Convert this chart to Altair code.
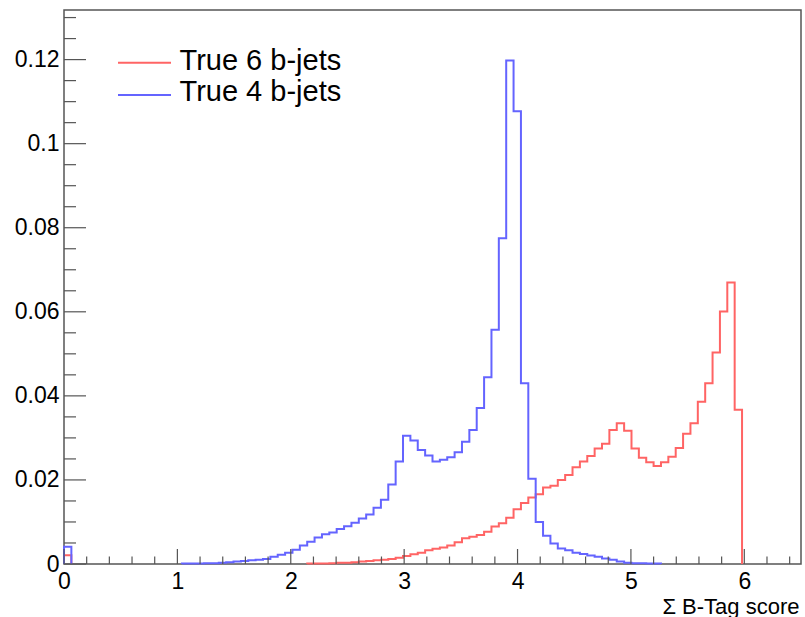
import altair as alt
import pandas as pd

# ---- data ----
BIN_W = 0.065          # 100 bins on [0, 6.5]
N_BINS = 100

series_names = ["True 6 b-jets", "True 4 b-jets"]
series_colors = ["#ff6464", "#6464ff"]

# True 6 b-jets: bin index -> value
red_bins = [0] + list(range(33, 92))
red_vals = [0.0021,
            0.0001, 0.0001, 0.0001, 0.0002, 0.0003, 0.0003, 0.0004, 0.0006, 0.0007, 0.0009,
            0.0010, 0.0012, 0.0015, 0.0019, 0.0023, 0.0027, 0.0033, 0.0036, 0.0039, 0.0044,
            0.0052, 0.0061, 0.0065, 0.0069, 0.0077, 0.0089, 0.0097, 0.0110, 0.0130, 0.0145,
            0.0158, 0.0166, 0.0182, 0.0186, 0.0200, 0.0212, 0.0230, 0.0244, 0.0257, 0.0275,
            0.0286, 0.0319, 0.0335, 0.0317, 0.0275, 0.0253, 0.0242, 0.0233, 0.0242, 0.0255,
            0.0276, 0.0310, 0.0335, 0.0386, 0.0430, 0.0503, 0.0601, 0.0670, 0.0367]

# True 4 b-jets
blue_bins = [0] + list(range(16, 81))
blue_vals = [0.0041,
             0.0001, 0.0001, 0.0001, 0.0002, 0.0002, 0.0003, 0.0004, 0.0006, 0.0007, 0.0009,
             0.0010, 0.0012, 0.0017, 0.0022, 0.0027, 0.0034, 0.0044, 0.0053, 0.0063, 0.0071,
             0.0075, 0.0083, 0.0090, 0.0098, 0.0108, 0.0118, 0.0134, 0.0153, 0.0189, 0.0244,
             0.0305, 0.0294, 0.0271, 0.0258, 0.0244, 0.0248, 0.0254, 0.0266, 0.0291, 0.0319,
             0.0371, 0.0444, 0.0557, 0.0775, 0.1198, 0.1077, 0.0430, 0.0203, 0.0100, 0.0067,
             0.0049, 0.0037, 0.0033, 0.0027, 0.0024, 0.0020, 0.0017, 0.0013, 0.0010, 0.0006,
             0.0003, 0.0002, 0.0002, 0.0001, 0.0001]

x_major = [0, 1, 2, 3, 4, 5, 6]
x_minor = [round(0.2 * k, 2) for k in range(1, 33) if k % 5 != 0]
y_major = [0, 0.02, 0.04, 0.06, 0.08, 0.1, 0.12]
y_minor = [round(0.005 * k, 3) for k in range(1, 27) if k % 4 != 0]

X_MAX = 6.5
Y_MAX = 0.1318

# ---- build step outlines ----
def step_rows(bins, vals, name):
    full = [0.0] * N_BINS
    for b, v in zip(bins, vals):
        full[b] = v
    rows = []
    seg = 0
    i = 0
    while i < N_BINS:
        if full[i] > 0:
            j = i
            while j < N_BINS and full[j] > 0:
                j += 1
            o = 0
            key = f"{name}-{seg}"
            rows.append(dict(x=i * BIN_W, y=0.0, series=name, seg=key, o=o)); o += 1
            for k in range(i, j):
                rows.append(dict(x=k * BIN_W, y=full[k], series=name, seg=key, o=o)); o += 1
                rows.append(dict(x=(k + 1) * BIN_W, y=full[k], series=name, seg=key, o=o)); o += 1
            rows.append(dict(x=j * BIN_W, y=0.0, series=name, seg=key, o=o))
            seg += 1
            i = j
        else:
            i += 1
    return rows

df = pd.DataFrame(step_rows(red_bins, red_vals, series_names[0]) +
                  step_rows(blue_bins, blue_vals, series_names[1]))

W, H = 737, 554
FONT = "Liberation Sans"
AX = "#555555"

xscale = alt.Scale(domain=[0, X_MAX], nice=False, zero=False)
yscale = alt.Scale(domain=[0, Y_MAX], nice=False)

hist = alt.Chart(df).mark_line(strokeWidth=2, interpolate="linear").encode(
    x=alt.X("x:Q", scale=xscale,
            axis=alt.Axis(values=x_major, format="d", ticks=False, tickSize=0, domain=False,
                          grid=False, labelFont=FONT, labelFontSize=23, labelColor="black",
                          labelBaseline="alphabetic", labelPadding=24, labelFlush=False,
                          labelOverlap=False,
                          title="Σ B-Tag score", titleFont=FONT, titleFontSize=22,
                          titleFontWeight="normal", titleColor="black",
                          titleAlign="right", titleX=W - 2, titleY=49,
                          titleBaseline="alphabetic")),
    y=alt.Y("y:Q", scale=yscale,
            axis=alt.Axis(values=y_major, format="~g", ticks=False, tickSize=0, domain=False,
                          grid=False, labelFont=FONT, labelFontSize=23, labelColor="black",
                          labelPadding=5, labelFlush=False, labelOverlap=False, title=None)),
    color=alt.Color("series:N",
                    scale=alt.Scale(domain=series_names, range=series_colors),
                    legend=None),
    detail="seg:N",
    order="o:Q",
)

def tick_df(vals):
    return pd.DataFrame({"v": vals})

ymaj = alt.Chart(tick_df(y_major)).mark_rule(color=AX, strokeWidth=1.2).encode(
    y=alt.Y("v:Q", scale=yscale), x=alt.value(0), x2=alt.value(22))
ymin = alt.Chart(tick_df(y_minor)).mark_rule(color=AX, strokeWidth=1.2).encode(
    y=alt.Y("v:Q", scale=yscale), x=alt.value(0), x2=alt.value(12))
xmaj = alt.Chart(tick_df(x_major)).mark_rule(color=AX, strokeWidth=1.2).encode(
    x=alt.X("v:Q", scale=xscale), y=alt.value(H), y2=alt.value(H - 15))
xmin = alt.Chart(tick_df(x_minor)).mark_rule(color=AX, strokeWidth=1.2).encode(
    x=alt.X("v:Q", scale=xscale), y=alt.value(H), y2=alt.value(H - 7.5))

# ---- legend (manual, ROOT TLegend style) ----
legend_layers = []
line_y = [52.7, 85.0]
text_y = [60.0, 91.0]
for name, col, ly, ty in zip(series_names, series_colors, line_y, text_y):
    ldf = pd.DataFrame({"label": [name]})
    legend_layers.append(
        alt.Chart(ldf).mark_rule(color=col, strokeWidth=2).encode(
            x=alt.value(54), x2=alt.value(107), y=alt.value(ly)))
    legend_layers.append(
        alt.Chart(ldf).mark_text(font=FONT, fontSize=29, color="black", align="left",
                                 baseline="alphabetic").encode(
            x=alt.value(115.5), y=alt.value(ty), text="label:N"))

chart = alt.layer(hist, ymaj, ymin, xmaj, xmin, *legend_layers).properties(
    width=W, height=H,
    autosize=alt.AutoSizeParams(type="none"),
    padding={"left": 64, "top": 10, "right": 4, "bottom": 53},
    background="white",
).configure_view(stroke=AX, strokeWidth=1.5)

chart.save("out.html", embed_options={"renderer": "svg", "actions": False})
